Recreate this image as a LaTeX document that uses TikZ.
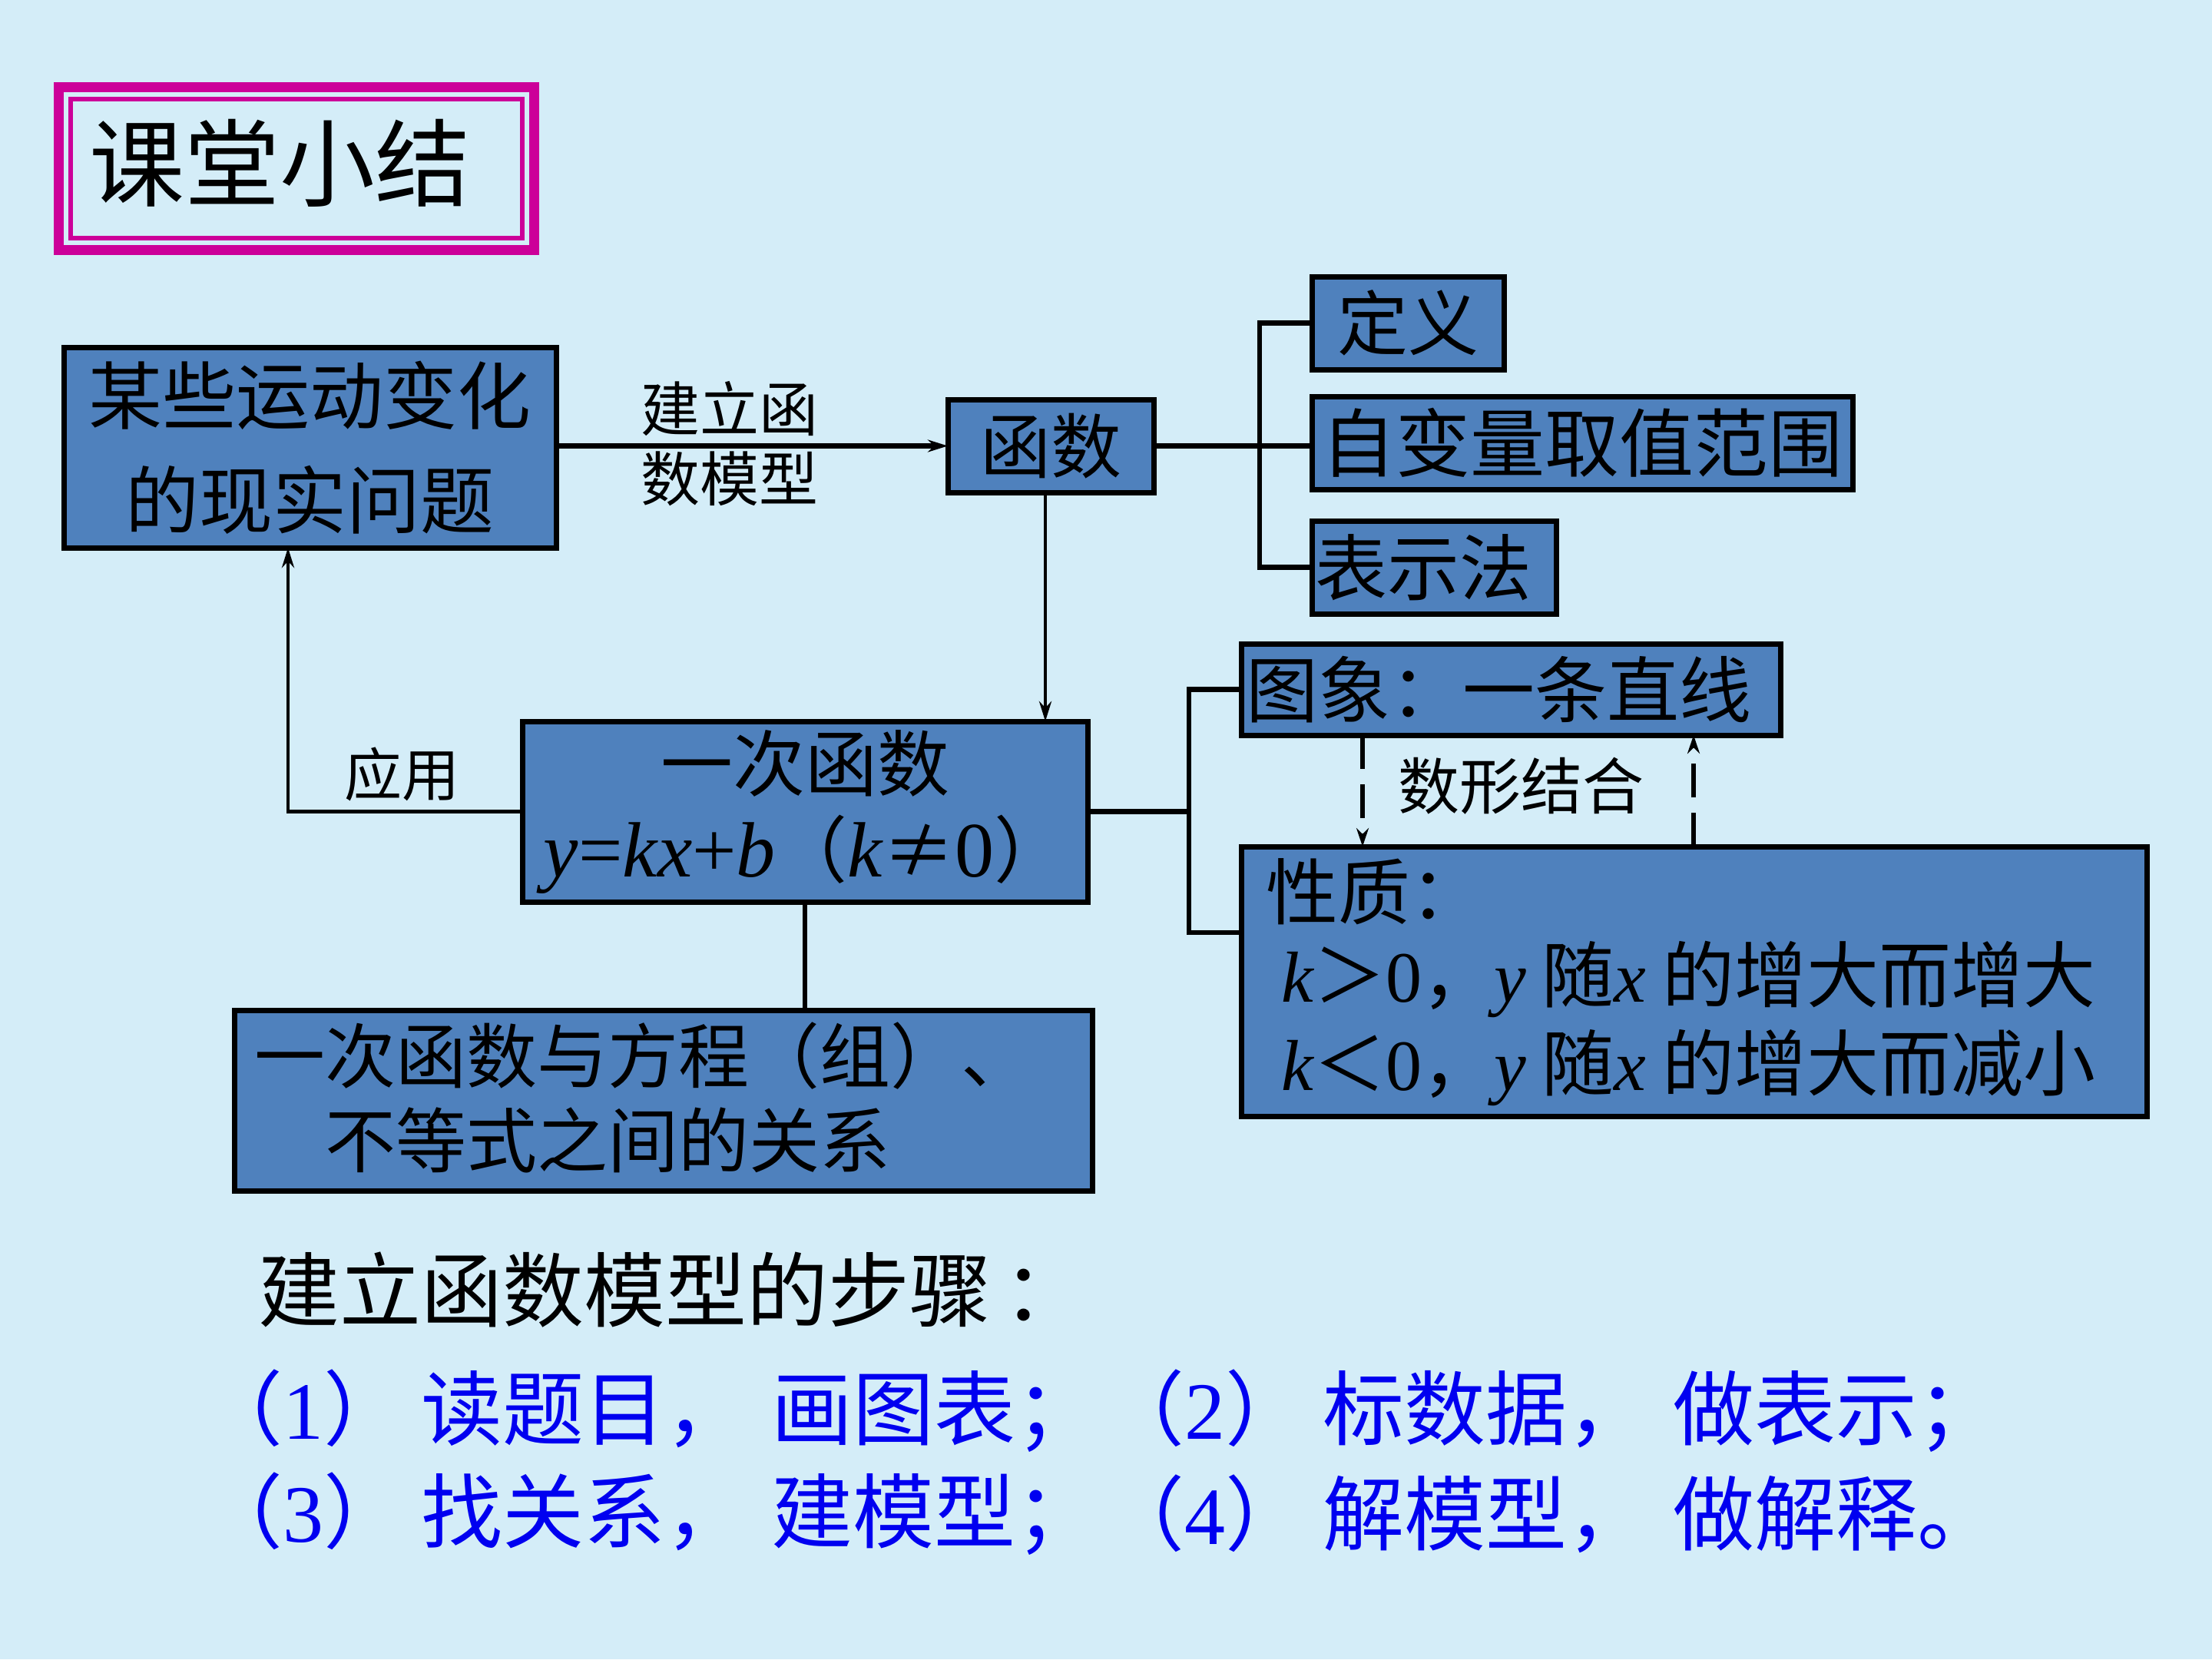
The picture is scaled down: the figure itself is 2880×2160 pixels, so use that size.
\documentclass[tikz,border=0pt]{standalone}
\usepackage{fontspec}
\setmainfont{Noto Sans CJK SC}
\newfontfamily\tms{Liberation Serif}
\usetikzlibrary{arrows.meta}
\definecolor{bgc}{RGB}{212,237,248}
\definecolor{boxc}{RGB}{79,129,189}
\definecolor{magc}{RGB}{204,0,153}
\definecolor{stepc}{RGB}{0,0,240}
\newcommand\tmi[1]{{\tms\itshape #1}}
\newcommand\tmr[1]{{\tms #1}}
\newcommand\fs[2]{\fontsize{#1pt}{#2pt}\selectfont}
\begin{document}
\begin{tikzpicture}[x=0.5pt,y=-0.5pt,
  box/.style={draw=black, line width=3.5pt, fill=boxc, inner sep=0pt, outer sep=0pt},
  conn/.style={line width=3.2pt, draw=black},
  thin/.style={line width=2.4pt, draw=black},
  tip/.style={-{Stealth[length=13pt,width=8pt]}},
  darr/.style={line width=3pt, dash pattern=on 22pt off 10pt, -{Stealth[length=12pt,width=8pt]}},
  lbl/.style={inner sep=0pt, align=center},
]
\useasboundingbox (0,0) rectangle (2880,2160);
\fill[bgc] (0,0) rectangle (2880,2160);

% title frame
\draw[magc, line width=6.5pt] (76.5,113.5) rectangle (695.5,325.5);
\draw[magc, line width=3pt] (92,129) rectangle (680,310);
\node[lbl, font=\fs{62}{70}] (title) at (364,212) {课堂小结};

% boxes
\node[box, minimum width=320.5pt, minimum height=130.5pt, align=center, font=\fs{48}{68}] (A) at (403.5,582.5) {某些运动变化\\的现实问题};
\node[box, minimum width=134pt, minimum height=60.5pt, font=\fs{46}{50}] (F) at (1368,580.5) {函数};
\node[box, minimum width=125pt, minimum height=60.5pt, font=\fs{46}{50}] (D) at (1833,420.5) {定义};
\node[box, minimum width=352pt, minimum height=60.5pt, font=\fs{48.5}{50}] (Z) at (2060,576.5) {自变量取值范围};
\node[box, minimum width=159pt, minimum height=60.5pt] (B) at (1867,738.5) {};
\node[lbl, anchor=west, font=\fs{47}{50}] (Bt) at (1712,738.5) {表示法};
\node[box, minimum width=368pt, minimum height=117.5pt, align=center, font=\fs{47}{56}] (Y) at (1048,1056.5)
  {一次函数\\{\fs{51}{56}\tmi{y}\tmr{=}\tmi{kx}\tmr{+}\tmi{b}}（{\fs{51}{56}\tmi{k}}≠{\fs{51}{56}\tmr{0}}）};
\node[box, minimum width=558.5pt, minimum height=117.5pt] (R) at (863.5,1432.5) {};
\node[lbl, anchor=west, align=left, font=\fs{46}{55}] (Rt) at (331,1429) {一次函数与方程（组）、\\\hspace{1em}不等式之间的关系};
\node[box, minimum width=351pt, minimum height=59.5pt] (G) at (1967,897.5) {};
\node[lbl, anchor=west, font=\fs{47}{50}] (Gt) at (1622,897.5) {图象：一条直线};
\node[box, minimum width=589.5pt, minimum height=175.5pt] (P) at (2205.5,1277.5) {};
\node[lbl, anchor=west, font=\fs{47}{50}] (Pt1) at (1648,1161) {性质：};
\node[lbl, anchor=west, font=\fs{47}{50}] (Pt2) at (1668,1275) {\tmi{k}＞\tmr{0}，\tmi{y} 随\tmi{x} 的增大而增大};
\node[lbl, anchor=west, font=\fs{47}{50}] (Pt3) at (1668,1390) {\tmi{k}＜\tmr{0}，\tmi{y} 随\tmi{x} 的增大而减小};

% connectors
\draw[conn, tip] (A.east |- F.west) -- (F.west);
\node[lbl, font=\fs{38.5}{45.5}] (Lmodel) at (950,578) {建立函\\数模型};
\draw[conn] (F.east) -- (F.east -| Z.west);
\draw[conn] (D.west) -- ++(-68,0) |- (B.west);
\draw[thin, tip] ([xshift=-3.5pt]F.south) -- ([xshift=-3.5pt]F.south |- Y.north);
\draw[thin, tip] (Y.west) -| ([xshift=-14.25pt]A.south);
\node[lbl, font=\fs{37.5}{40}] (Lapp) at (523,1008) {应用};
\draw[conn] (Y.south) -- (Y.south |- R.north);
\draw[conn] (Y.east) -- (Y.east -| 1548,0);
\draw[conn] (G.west) -- ++(-68,0) |- ([yshift=31.75pt]P.west);
\draw[darr] ([xshift=-96.5pt]G.south) -- ([xshift=-96.5pt]G.south |- P.north);
\draw[darr] ([xshift=119pt]G.south |- P.north) -- ([xshift=119pt]G.south);
\node[lbl, font=\fs{40}{45}] (Lsx) at (1980,1023) {数形结合};

% steps
\node[lbl, anchor=west, font=\fs{53}{60}] (steps) at (336,1679) {建立函数模型的步骤\hspace{0.15em}：};
\node[lbl, anchor=west, font=\fs{53}{60}, text=stepc] (s1) at (262,1837) {（\tmr{1}）\hspace{0.2em}读题目，\hspace{0.3em}画图表；};
\node[lbl, anchor=west, font=\fs{53}{60}, text=stepc] (s2) at (1436,1837) {（\tmr{2}）\hspace{0.2em}标数据，\hspace{0.3em}做表示；};
\node[lbl, anchor=west, font=\fs{53}{60}, text=stepc] (s3) at (262,1971) {（\tmr{3}）\hspace{0.2em}找关系，\hspace{0.3em}建模型；};
\node[lbl, anchor=west, font=\fs{53}{60}, text=stepc] (s4) at (1436,1971) {（\tmr{4}）\hspace{0.2em}解模型，\hspace{0.3em}做解释。};
\end{tikzpicture}
\end{document}
